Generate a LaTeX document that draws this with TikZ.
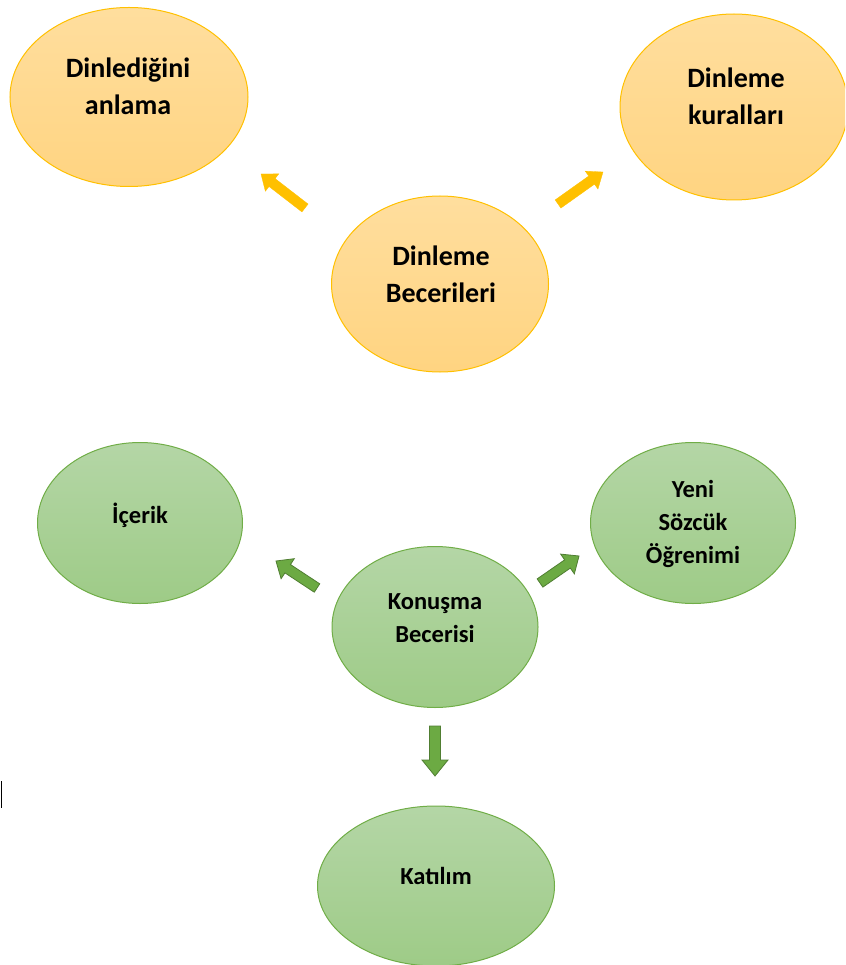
\documentclass[tikz,border=0pt]{standalone}
\usepackage{fontspec}
\setmainfont{Carlito}
\usetikzlibrary{shapes.geometric,calc}
\definecolor{yfillT}{HTML}{FFDE9E}
\definecolor{yfillB}{HTML}{FFD481}
\definecolor{ydraw}{HTML}{FFC000}
\definecolor{gfillT}{HTML}{B4D6A6}
\definecolor{gfillB}{HTML}{9ECB87}
\definecolor{gdraw}{HTML}{70AD47}
\definecolor{garrow}{HTML}{6CAA43}
\definecolor{gedge}{HTML}{507E32}
\newcommand\blockarrow[6]{%
  % #1 style, #2 tail, #3 tip, #4 half shaft, #5 half head, #6 head length
  \coordinate (tmpH) at ($(#3)!#6!(#2)$);
  \filldraw[#1] ($(#2)!#4!90:(#3)$) -- ($(tmpH)!#4!90:(#3)$) -- ($(tmpH)!#5!90:(#3)$)
     -- (#3) -- ($(tmpH)!#5!-90:(#3)$) -- ($(tmpH)!#4!-90:(#3)$) -- ($(#2)!#4!-90:(#3)$) -- cycle;
}
\tikzset{
  yell/.style={ellipse, draw=ydraw, line width=1pt, top color=yfillT, bottom color=yfillB, inner sep=0pt},
  gre/.style={ellipse, draw=gdraw, line width=1pt, top color=gfillT, bottom color=gfillB, inner sep=0pt},
  ytext/.style={font=\bfseries\fontsize{28}{37}\selectfont, align=center, text=black},
  gtext/.style={font=\bfseries\fontsize{24.5}{33}\selectfont, align=center, text=black},
  yarr/.style={fill=ydraw, draw=ydraw, line width=0.3pt},
  garr/.style={fill=garrow, draw=gedge, line width=0.8pt, line join=miter},
}
\begin{document}
\begin{tikzpicture}[x=1pt,y=-1pt]
\useasboundingbox (0,0) rectangle (845,965);
\clip (0,0) rectangle (845,965);
% yellow group
\node[yell, minimum width=238pt, minimum height=179pt] (dla) at (129,97) {};
\node[yell, minimum width=228pt, minimum height=186pt] (dk) at (734,107) {};
\node[yell, minimum width=217pt, minimum height=176pt] (db) at (440,284) {};
\node[ytext] (dlaT) at (128,86) {Dinlediğini\\anlama};
\node[ytext] (dkT) at (736,96) {Dinleme\\kuralları};
\node[ytext] (dbT) at (441,274) {Dinleme\\Becerileri};
% green group
\node[gre, minimum width=205pt, minimum height=161pt] (ic) at (140,523) {};
\node[gre, minimum width=205pt, minimum height=161pt] (ys) at (693,523) {};
\node[gre, minimum width=206pt, minimum height=161pt] (kb) at (435,627) {};
\node[gre, minimum width=237pt, minimum height=160pt] (ka) at (436,886) {};
\node[gtext] (icT) at (140,515) {İçerik};
\node[gtext] (ysT) at (693,524) {Yeni\\Sözcük\\Öğrenimi};
\node[gtext] (kbT) at (435,618) {Konuşma\\Becerisi};
\node[gtext] (kaT) at (436,876) {Katılım};
% arrows
\coordinate (a1s) at (305,208); \coordinate (a1e) at (261,174);
\coordinate (a2s) at (558,204); \coordinate (a2e) at (603,172);
\coordinate (a3s) at (317,588); \coordinate (a3e) at (276,561);
\coordinate (a4s) at (540,583); \coordinate (a4e) at (579,556);
\coordinate (a5s) at (435,726); \coordinate (a5e) at (435,776);
\blockarrow{yarr}{a1s}{a1e}{5pt}{11pt}{14pt}
\blockarrow{yarr}{a2s}{a2e}{5pt}{11pt}{14pt}
\blockarrow{garr}{a3s}{a3e}{5pt}{12pt}{14pt}
\blockarrow{garr}{a4s}{a4e}{5pt}{12pt}{14pt}
\blockarrow{garr}{a5s}{a5e}{5.5pt}{13pt}{16pt}
% stray mark
\coordinate (m1) at (1.5,781); \coordinate (m2) at (1.5,808);
\draw[black, line width=1.2pt] (m1) -- (m2);
\end{tikzpicture}
\end{document}
